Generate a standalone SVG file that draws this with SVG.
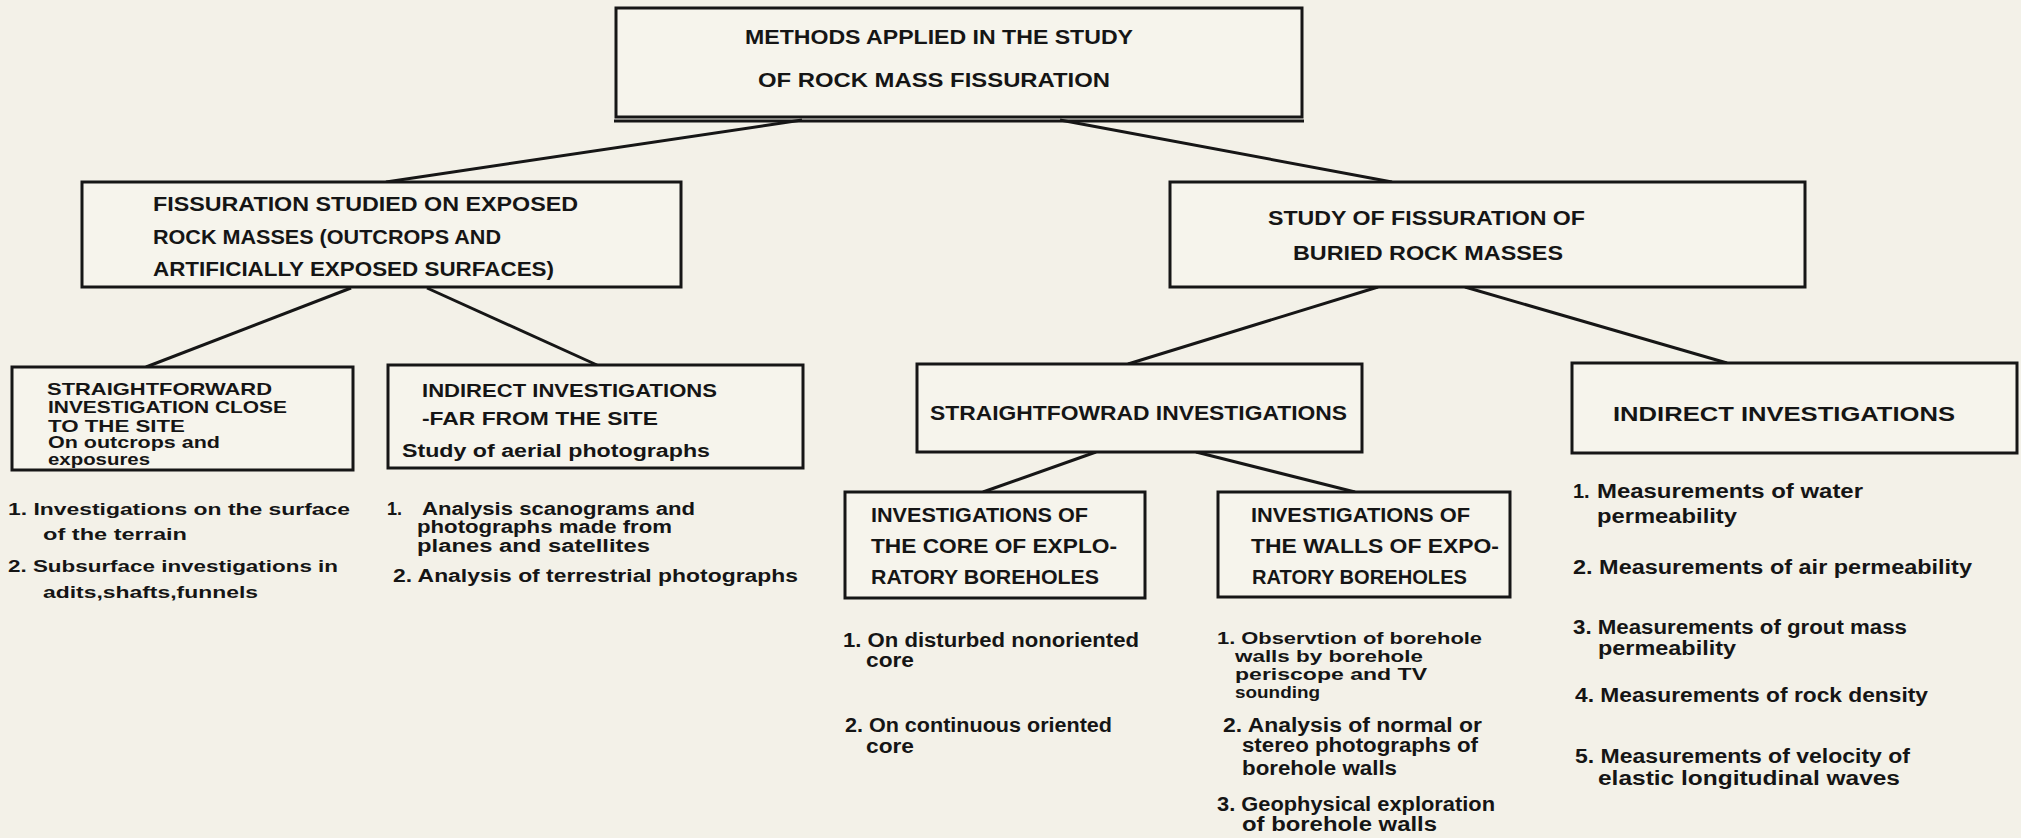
<svg xmlns="http://www.w3.org/2000/svg" width="2021" height="838" viewBox="0 0 2021 838">
<style>
.bg{fill:#f3f1e8}
.box{fill:#f6f4ec;stroke:#161616;stroke-width:3}
.con line{stroke:#161616;stroke-width:3;fill:none}
text{font-family:"Liberation Sans",Arial,sans-serif;font-weight:700;fill:#151515}
.h{font-size:20px}
.s{font-size:17px}
.l{font-size:20px}
.t{font-size:17px}
.w{font-size:18px}
</style>
<rect class="bg" x="0" y="0" width="2021" height="838"/>
<g id="connectors" class="con">
<line x1="802" y1="120" x2="386" y2="182"/>
<line x1="1060" y1="120" x2="1392" y2="182"/>
<line x1="351" y1="288" x2="146" y2="367"/>
<line x1="427" y1="288" x2="597" y2="365"/>
<line x1="1378" y1="287" x2="1128" y2="364"/>
<line x1="1465" y1="287" x2="1727" y2="363"/>
<line x1="1096" y1="452" x2="983" y2="492"/>
<line x1="1196" y1="452" x2="1355" y2="492"/>
</g>
<g id="n-top">
<rect class="box" x="616" y="8" width="686" height="109"/>
<line x1="614" y1="121" x2="1304" y2="121" stroke="#161616" stroke-width="3"/>
<text class="h" x="745" y="44" textLength="388" lengthAdjust="spacingAndGlyphs">METHODS APPLIED  IN THE STUDY</text>
<text class="h" x="758" y="87" textLength="352" lengthAdjust="spacingAndGlyphs">OF ROCK MASS FISSURATION</text>
</g>
<g id="n-exposed">
<rect class="box" x="82" y="182" width="599" height="105"/>
<text class="h" x="153" y="211" textLength="425" lengthAdjust="spacingAndGlyphs">FISSURATION STUDIED ON EXPOSED</text>
<text class="h" x="153" y="244" textLength="348" lengthAdjust="spacingAndGlyphs">ROCK MASSES (OUTCROPS AND</text>
<text class="h" x="153" y="276" textLength="401" lengthAdjust="spacingAndGlyphs">ARTIFICIALLY EXPOSED SURFACES)</text>
</g>
<g id="n-buried">
<rect class="box" x="1170" y="182" width="635" height="105"/>
<text class="h" x="1268" y="225" textLength="317" lengthAdjust="spacingAndGlyphs">STUDY OF FISSURATION OF</text>
<text class="h" x="1293" y="260" textLength="270" lengthAdjust="spacingAndGlyphs">BURIED ROCK MASSES</text>
</g>
<g id="n-straightforward">
<rect class="box" x="12" y="367" width="341" height="103"/>
<text class="s" x="47" y="395" textLength="225" lengthAdjust="spacingAndGlyphs">STRAIGHTFORWARD</text>
<text class="s" x="48" y="413" textLength="239" lengthAdjust="spacingAndGlyphs">INVESTIGATION CLOSE</text>
<text class="s" x="48" y="432" textLength="137" lengthAdjust="spacingAndGlyphs">TO THE SITE</text>
<text class="s" x="48" y="448" textLength="172" lengthAdjust="spacingAndGlyphs">On outcrops and</text>
<text class="s" x="48" y="465" textLength="102" lengthAdjust="spacingAndGlyphs">exposures</text>
</g>
<g id="list-straightforward">
<text class="s" x="8" y="515" textLength="342" lengthAdjust="spacingAndGlyphs">1. Investigations on the surface</text>
<text class="s" x="43" y="540" textLength="144" lengthAdjust="spacingAndGlyphs">of the terrain</text>
<text class="s" x="8" y="572" textLength="330" lengthAdjust="spacingAndGlyphs">2. Subsurface investigations in</text>
<text class="s" x="43" y="598" textLength="215" lengthAdjust="spacingAndGlyphs">adits,shafts,funnels</text>
</g>
<g id="n-indirect-far">
<rect class="box" x="388" y="365" width="415" height="103"/>
<text class="w" x="422" y="397" textLength="295" lengthAdjust="spacingAndGlyphs">INDIRECT  INVESTIGATIONS</text>
<text class="w" x="422" y="425" textLength="236" lengthAdjust="spacingAndGlyphs">-FAR FROM  THE SITE</text>
<text class="w" x="402" y="457" textLength="308" lengthAdjust="spacingAndGlyphs">Study of aerial photographs</text>
</g>
<g id="list-indirect-far">
<text class="w" x="387" y="515">1.</text>
<text class="w" x="422" y="515" textLength="273" lengthAdjust="spacingAndGlyphs">Analysis scanograms and</text>
<text class="w" x="417" y="533" textLength="255" lengthAdjust="spacingAndGlyphs">photographs made from</text>
<text class="w" x="417" y="552" textLength="233" lengthAdjust="spacingAndGlyphs">planes and satellites</text>
<text class="w" x="393" y="582" textLength="405" lengthAdjust="spacingAndGlyphs">2. Analysis of terrestrial photographs</text>
</g>
<g id="n-straightfowrad">
<rect class="box" x="917" y="364" width="445" height="88"/>
<text class="h" x="930" y="420" textLength="417" lengthAdjust="spacingAndGlyphs">STRAIGHTFOWRAD   INVESTIGATIONS</text>
</g>
<g id="n-indirect">
<rect class="box" x="1572" y="363" width="445" height="90"/>
<text class="h" x="1613" y="421" textLength="342" lengthAdjust="spacingAndGlyphs">INDIRECT    INVESTIGATIONS</text>
</g>
<g id="list-indirect">
<text class="l" x="1573" y="498">1.</text>
<text class="l" x="1597" y="498" textLength="266" lengthAdjust="spacingAndGlyphs">Measurements of  water</text>
<text class="l" x="1597" y="523" textLength="140" lengthAdjust="spacingAndGlyphs">permeability</text>
<text class="l" x="1573" y="574" textLength="399" lengthAdjust="spacingAndGlyphs">2. Measurements of air permeability</text>
<text class="l" x="1573" y="634" textLength="334" lengthAdjust="spacingAndGlyphs">3. Measurements of grout mass</text>
<text class="l" x="1598" y="655" textLength="138" lengthAdjust="spacingAndGlyphs">permeability</text>
<text class="l" x="1575" y="702" textLength="353" lengthAdjust="spacingAndGlyphs">4. Measurements of rock density</text>
<text class="l" x="1575" y="763" textLength="335" lengthAdjust="spacingAndGlyphs">5. Measurements of velocity of</text>
<text class="l" x="1598" y="785" textLength="302" lengthAdjust="spacingAndGlyphs">elastic longitudinal waves</text>
</g>
<g id="n-core">
<rect class="box" x="845" y="492" width="300" height="106"/>
<text class="h" x="871" y="522" textLength="217" lengthAdjust="spacingAndGlyphs">INVESTIGATIONS OF</text>
<text class="h" x="871" y="553" textLength="246" lengthAdjust="spacingAndGlyphs">THE CORE OF EXPLO-</text>
<text class="h" x="871" y="584" textLength="228" lengthAdjust="spacingAndGlyphs">RATORY BOREHOLES</text>
</g>
<g id="list-core">
<text class="l" x="843" y="647" textLength="296" lengthAdjust="spacingAndGlyphs">1. On disturbed nonoriented</text>
<text class="l" x="866" y="667" textLength="48" lengthAdjust="spacingAndGlyphs">core</text>
<text class="l" x="845" y="732" textLength="267" lengthAdjust="spacingAndGlyphs">2. On continuous oriented</text>
<text class="l" x="866" y="753" textLength="48" lengthAdjust="spacingAndGlyphs">core</text>
</g>
<g id="n-walls">
<rect class="box" x="1218" y="492" width="292" height="105"/>
<text class="h" x="1251" y="522" textLength="219" lengthAdjust="spacingAndGlyphs">INVESTIGATIONS OF</text>
<text class="h" x="1251" y="553" textLength="248" lengthAdjust="spacingAndGlyphs">THE WALLS OF EXPO-</text>
<text class="h" x="1252" y="584" textLength="215" lengthAdjust="spacingAndGlyphs">RATORY BOREHOLES</text>
</g>
<g id="list-walls">
<text class="t" x="1217" y="644" textLength="265" lengthAdjust="spacingAndGlyphs">1. Observtion of borehole</text>
<text class="t" x="1235" y="662" textLength="188" lengthAdjust="spacingAndGlyphs">walls by borehole</text>
<text class="t" x="1235" y="680" textLength="192" lengthAdjust="spacingAndGlyphs">periscope and TV</text>
<text class="t" x="1235" y="698" textLength="85" lengthAdjust="spacingAndGlyphs">sounding</text>
<text class="l" x="1223" y="732" textLength="259" lengthAdjust="spacingAndGlyphs">2. Analysis of normal or</text>
<text class="l" x="1242" y="752" textLength="236" lengthAdjust="spacingAndGlyphs">stereo photographs of</text>
<text class="l" x="1242" y="775" textLength="155" lengthAdjust="spacingAndGlyphs">borehole walls</text>
<text class="l" x="1217" y="811" textLength="278" lengthAdjust="spacingAndGlyphs">3. Geophysical exploration</text>
<text class="l" x="1242" y="831" textLength="195" lengthAdjust="spacingAndGlyphs">of borehole walls</text>
</g>
</svg>
